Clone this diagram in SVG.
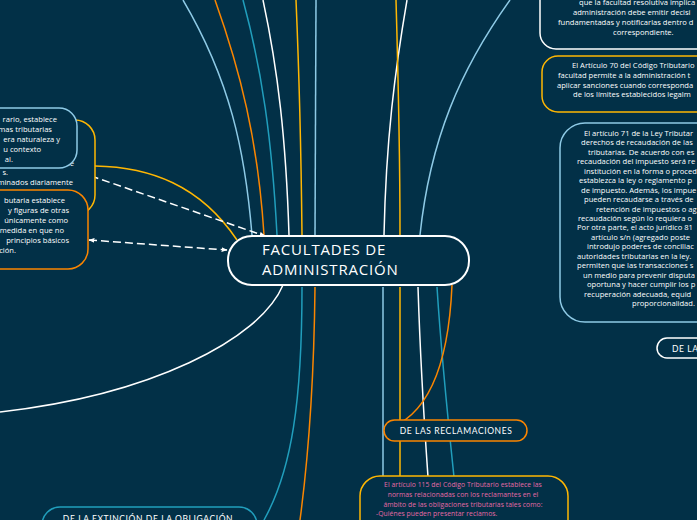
<svg xmlns="http://www.w3.org/2000/svg" width="697" height="520" viewBox="0 0 697 520">
<defs>
<style>
.bg{fill:#023047}
.box{fill:#023047;stroke-width:1.5}
.w{stroke:#ffffff}.lb{stroke:#8ecae6}.tl{stroke:#219ebc}.yl{stroke:#ffb703}.or{stroke:#fb8500}
.ln{fill:none;stroke-width:1.5}
.t{font-family:"Open Sans",Lato,sans-serif;fill:#ffffff}
.s8{font-size:7.6px}
.s75{font-size:7.6px}
.pk{font-family:"Open Sans",Lato,sans-serif;font-size:6.8px;fill:#e46aa6;letter-spacing:0.05px}
.cap{font-family:Lato,"Open Sans",sans-serif;font-size:8.5px;fill:#ffffff;letter-spacing:0.6px}
.dash{fill:none;stroke:#ffffff;stroke-width:1.5;stroke-dasharray:8 4}
.ttl{font-family:"Open Sans",Lato,sans-serif;font-size:15px;letter-spacing:0.8px;fill:#ffffff}
</style>
<marker id="ah" viewBox="0 0 10 10" refX="9" refY="5" markerWidth="6" markerHeight="6" orient="auto-start-reverse" markerUnits="userSpaceOnUse">
<path d="M0,1 L10,5 L0,9 z" fill="#ffffff"/>
</marker>
</defs>
<rect class="bg" x="0" y="0" width="697" height="520"/>

<g id="connectors">
<path class="ln lb" d="M252 235 C245 150,230 80,183 0"/>
<path class="ln or" d="M264 235 C258 140,240 70,215 0"/>
<path class="ln tl" d="M277 235 C272 140,262 70,243 0"/>
<path class="ln w" d="M289 235 C286 140,278 70,263 0"/>
<path class="ln yl" d="M302 235 C301 140,299 70,296 0"/>
<path class="ln lb" d="M315 235 L316 0"/>
<path class="ln w" d="M384 235 C386 140,395 70,407 0"/>
<path class="ln yl" d="M400 235 C400 140,398 70,396 0"/>
<path class="ln lb" d="M420 235 C430 140,460 70,510 0"/>
<path class="ln yl" d="M237 240 C200 185,150 167,95 166"/>
<path class="ln w" d="M283 285 C260 340,150 395,0 412"/>
<path class="ln tl" d="M302 287 C302 400,292 470,264 520"/>
<path class="ln or" d="M315 287 C314 380,308 460,300 520"/>
<path class="ln lb" d="M383 287 L383 477"/>
<path class="ln yl" d="M400 287 L400 477"/>
<path class="ln w" d="M418 287 C420 350,424 420,428 477"/>
<path class="ln tl" d="M437 287 C441 350,448 420,454 477"/>
<path class="ln or" d="M452 285 C448 380,420 420,384 430"/>
<path class="dash" d="M68 168 L265 236" marker-start="url(#ah)" marker-end="url(#ah)"/>
<path class="dash" d="M89 240 L227 250" marker-start="url(#ah)" marker-end="url(#ah)"/>
</g>

<g id="node-left-yellow">
<rect class="box yl" x="-150" y="120" width="245" height="95" rx="20"/>
<text class="t s8" text-anchor="end" x="74" y="166">de</text>
<text class="t s8" text-anchor="end" x="8" y="175">s.</text>
<text class="t s8" text-anchor="end" x="73" y="185">minados diariamente</text>
</g>

<g id="node-left-lightblue">
<rect class="box lb" x="-150" y="108" width="227" height="60" rx="18"/>
<text class="t s8" text-anchor="end" x="57" y="122">rario, establece</text>
<text class="t s8" text-anchor="end" x="52" y="132">mas tributarias</text>
<text class="t s8" text-anchor="end" x="60" y="142">era naturaleza y</text>
<text class="t s8" text-anchor="end" x="41" y="152">u contexto</text>
<text class="t s8" text-anchor="end" x="13" y="162">al.</text>
</g>

<g id="node-left-orange">
<rect class="box or" x="-150" y="190" width="238" height="79" rx="20"/>
<text class="t s8" text-anchor="end" x="65" y="203">butaria establece</text>
<text class="t s8" text-anchor="end" x="69" y="213">y figuras de otras</text>
<text class="t s8" text-anchor="end" x="68" y="223">únicamente como</text>
<text class="t s8" text-anchor="end" x="64" y="233">medida en que no</text>
<text class="t s8" text-anchor="end" x="69" y="243">principios básicos</text>
<text class="t s8" text-anchor="end" x="16" y="253">ción.</text>
</g>

<g id="node-central">
<rect x="228" y="236" width="241" height="49" rx="24" fill="#023047" stroke="#ffffff" stroke-width="2"/>
<text class="ttl" x="262" y="255">FACULTADES DE</text>
<text class="ttl" x="262" y="275">ADMINISTRACIÓN</text>
</g>

<g id="node-top-right-white">
<rect class="box w" x="540" y="-60" width="220" height="109" rx="16"/>
<text class="t s75" x="579" y="5">que la facultad resolutiva implica q</text>
<text class="t s75" x="573" y="15">administración debe emitir decisi</text>
<text class="t s75" x="558" y="25">fundamentadas y notificarlas dentro d</text>
<text class="t s75" x="613" y="35">correspondiente.</text>
</g>

<g id="node-art70">
<rect class="box yl" x="542" y="56" width="220" height="56" rx="16"/>
<text class="t s75" x="572" y="68">El Artículo 70 del Código Tributario</text>
<text class="t s75" x="558" y="78">facultad permite a la administración t</text>
<text class="t s75" x="557" y="87.5">aplicar sanciones cuando corresponda</text>
<text class="t s75" x="573" y="97">de los límites establecidos legalm</text>
</g>

<g id="node-art71">
<rect class="box lb" x="560" y="123" width="220" height="199" rx="25"/>
<g class="t s75">
<text x="584" y="136">El artículo 71 de la Ley Tributar</text>
<text x="581" y="145.4">derechos de recaudación de las</text>
<text x="588" y="154.9">tributarias. De acuerdo con es</text>
<text x="577" y="164.3">recaudación del impuesto será re</text>
<text x="584" y="173.8">institución en la forma o proced</text>
<text x="579" y="183.2">establezca la ley o reglamento p</text>
<text x="581" y="192.6">de impuesto. Además, los impue</text>
<text x="584" y="202.1">pueden recaudarse a través de</text>
<text x="596" y="211.5">retención de impuestos o ag</text>
<text x="578" y="221">recaudación según lo requiera o</text>
<text x="577" y="230.4">Por otra parte, el acto jurídico 81</text>
<text x="591" y="239.8">artículo s/n (agregado poste</text>
<text x="587" y="249.3">introdujo poderes de conciliac</text>
<text x="577" y="258.7">autoridades tributarias en la ley.</text>
<text x="577" y="268.2">permiten que las transacciones s</text>
<text x="583" y="277.6">un medio para prevenir disputa</text>
<text x="587" y="287">oportuna y hacer cumplir los p</text>
<text x="584" y="296.5">recuperación adecuada, equid</text>
<text x="632" y="306">proporcionalidad.</text>
</g>
</g>

<g id="node-de-la">
<rect class="box w" x="657" y="338" width="80" height="20" rx="10"/>
<text class="cap" x="672" y="352">DE LA</text>
</g>

<g id="node-reclamaciones">
<rect class="box or" x="384" y="420" width="143" height="21" rx="10.5"/>
<text class="cap" x="456" y="434" text-anchor="middle">DE LAS RECLAMACIONES</text>
</g>

<g id="node-art115">
<rect class="box yl" x="360" y="476" width="208" height="80" rx="20"/>
<text class="pk" x="463" y="487" text-anchor="middle">El artículo 115 del Código Tributario establece las</text>
<text class="pk" x="463" y="497" text-anchor="middle">normas relacionadas con los reclamantes en el</text>
<text class="pk" x="463" y="507" text-anchor="middle">ámbito de las obligaciones tributarias tales como:</text>
<text class="pk" x="376" y="516">-Quiénes pueden presentar reclamos.</text>
<text class="pk" x="376" y="525">-Reclamos ante la autoridad competente.</text>
</g>

<g id="node-extincion">
<rect class="box tl" x="42" y="507" width="215" height="40" rx="18"/>
<text class="cap" x="148" y="522" text-anchor="middle">DE LA EXTINCIÓN DE LA OBLIGACIÓN</text>
</g>
</svg>
